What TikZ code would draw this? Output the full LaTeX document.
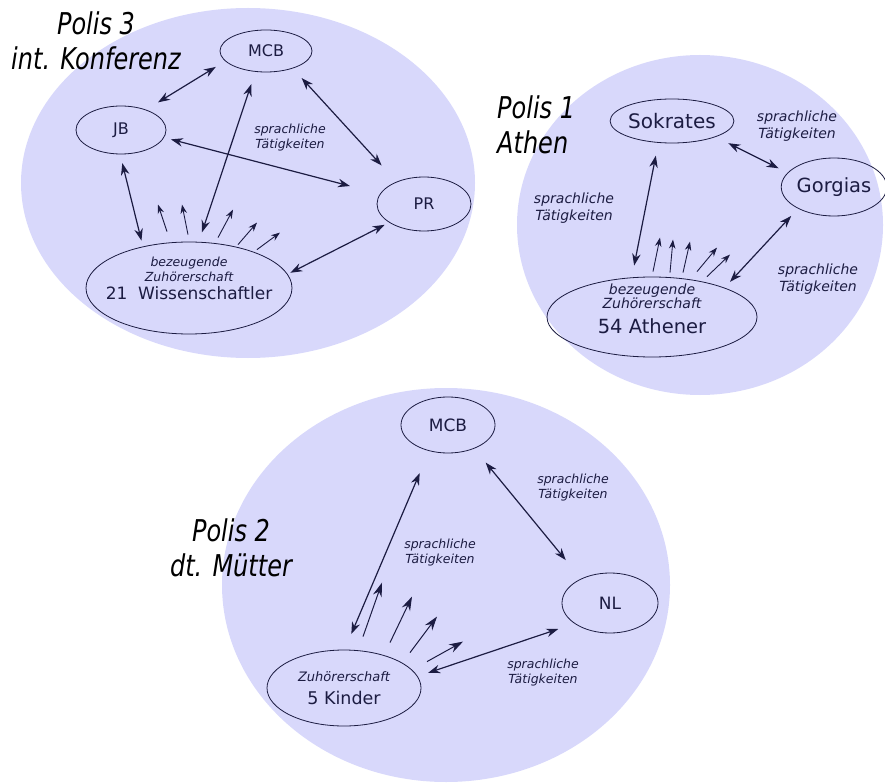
\documentclass[tikz,border=0pt]{standalone}
\usepackage{fontspec}
\setmainfont{DejaVu Sans}
\newfontfamily\titlefont[FakeStretch=0.8]{DejaVu Sans}
\usetikzlibrary{shapes.geometric,arrows.meta}
\definecolor{lav}{RGB}{216,216,251}
\definecolor{ink}{RGB}{28,28,66}
\newcommand\act{sprachliche\\Tätigkeiten}
\begin{document}
\begin{tikzpicture}[x=1pt,y=-1pt,
	who/.style args={#1x#2}{ellipse,draw=ink,line width=.8pt,inner sep=0pt,text=ink,
		minimum width=#1pt,minimum height=#2pt},
	fs/.style={font=\fontsize{#1}{#1}\selectfont},
	talk/.style={ink,line width=1.2pt,{Stealth[length=12pt,width=8.5pt]}-{Stealth[length=12pt,width=8.5pt]}},
	ray/.style={ink,line width=.9pt,-{Stealth[length=9pt,width=6.5pt]}},
	act/.style 2 args={text=ink,align=center,font=\itshape\fontsize{#1}{#2}\selectfont},
	title/.style={align=center,inner sep=0pt,font=\titlefont\itshape\fontsize{30}{35}\selectfont}]
	\useasboundingbox (0,0) rectangle (885,783);
	\fill[lav] (248,183) ellipse [x radius=227,y radius=175]
	(700,225) ellipse [x radius=183,y radius=170]
	(446,585) ellipse [x radius=224,y radius=197];
	
	% Polis 3
	\node[who=92x42,fs=16] (mcb) at (266,51) {MCB};
	\node[who=90x48,fs=16] (jb) at (121,130) {JB};
	\node[who=94x54,fs=16] (pr) at (424,204) {PR};
	\node[who=206x92] (wiss) at (189,288) {};
	\node[act={12.5}{15}] (wisst) at ([yshift=10pt]wiss.center)
	{bezeugende\\Zuhörerschaft\\[3pt]\upshape\fontsize{17}{20}\selectfont 21~~Wissenschaftler};
	\node[act={12.5}{15}] (t1) at (290,138) {\act};
	\node[title] (p3) at (96,41) {Polis 3\\int. Konferenz};
	\foreach \a/\b/\s/\e in {jb.39/mcb.194/14pt/11pt, mcb.243/wiss.78/13pt/10pt,
		mcb.327/pr.141/13pt/22pt, jb.350/pr.167/7pt/31pt, jb.268/wiss.138/9pt/6pt, wiss.8/pr.208/3pt/5pt}
	\draw[talk,shorten <=\s,shorten >=\e] (\a) -- (\b);
	\foreach \sx/\sy/\ex/\ey in {-22/-10/-9/-27, -1/-7/-6/-30, 29/-4/15/-28, 49/3/19/-22, 68/8/23/-17}
	\draw[ray] (wiss.north)++(\sx,\sy) -- ++(\ex,\ey);
	
	% Polis 1
	\node[who=104x44,fs=20] (sok) at (672,121) {Sokrates};
	\node[who=102x58,fs=19.5] (gor) at (834,187) {Gorgias};
	\node[who=210x80] (ath) at (652,317) {};
	\node[act={14}{13}] (atht) at ([yshift=8pt]ath.center)
	{bezeugende\\Zuhörerschaft\\[9pt]\upshape\fontsize{19.5}{20}\selectfont 54 Athener};
	\node[act={14}{17}] (t2) at (797,126) {\act};
	\node[act={14}{17}] (t3) at (574,208) {\act};
	\node[act={14}{17}] (t4) at (818,279) {\act};
	\node[title,align=left,anchor=west] (p1) at (497,125) {Polis 1\\Athen};
	\foreach \a/\b/\s/\e in {sok.238/ath.117/13pt/12pt, sok.340/gor.163/14pt/10pt, gor.211/ath.22/10pt/8pt}
	\draw[talk,shorten <=\s,shorten >=\e] (\a) -- (\b);
	\foreach \sx/\sy/\ex/\ey in {1/-5/7/-34, 18/-4/3/-33, 31/-4/7/-31, 45/-5/20/-24, 55/0/23/-22}
	\draw[ray] (ath.north)++(\sx,\sy) -- ++(\ex,\ey);
	
	% Polis 2
	\node[who=94x56,fs=17] (mcb2) at (448,425) {MCB};
	\node[who=96x60,fs=17] (nl) at (610,603) {NL};
	\node[who=154x76] (kind) at (344,688) {};
	\node[act={13}{15}] (kindt) at (kind.center)
	{Zuhörerschaft\\[8pt]\upshape\fontsize{17.5}{18}\selectfont 5 Kinder};
	\node[act={12.5}{15}] (t5) at (573,488) {\act};
	\node[act={12.5}{15}] (t6) at (440,553) {\act};
	\node[act={12.5}{15}] (t7) at (543,673) {\act};
	\node[title] (p2) at (231,548) {Polis 2\\dt. Mütter};
	\foreach \a/\b/\s/\e in {mcb2.234/kind.89/24pt/17pt, mcb2.318/nl.140/18pt/24pt, kind.9/nl.210/11pt/17pt}
	\draw[talk,shorten <=\s,shorten >=\e] (\a) -- (\b);
	\foreach \sx/\sy/\ex/\ey in {19/-13/19/-54, 46/-7/22/-46, 66/3/27/-36, 83/12/36/-20}
	\draw[ray,line width=1pt,-{Stealth[length=14pt,width=9pt]}] (kind.north)++(\sx,\sy) -- ++(\ex,\ey);
\end{tikzpicture}
\end{document}
